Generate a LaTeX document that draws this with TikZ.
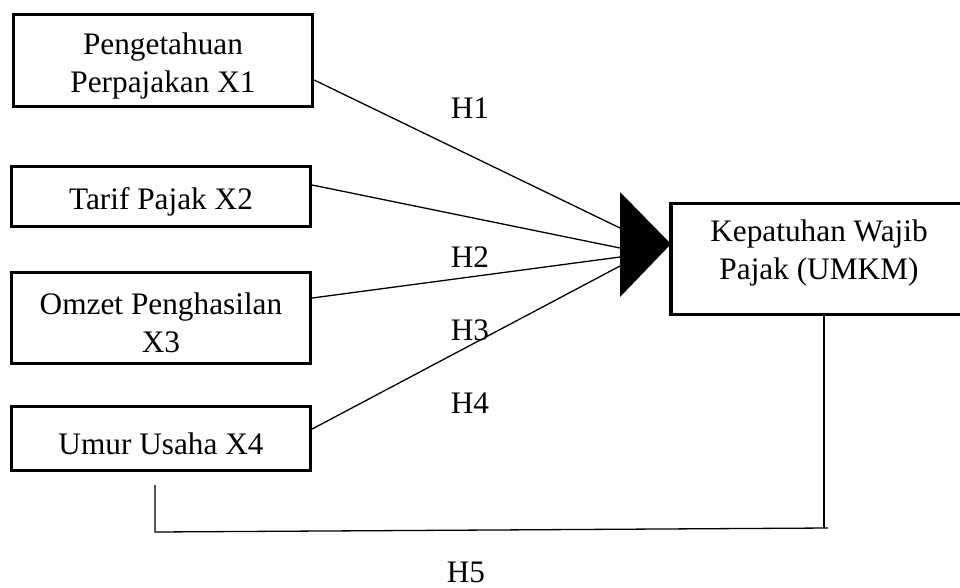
\documentclass[tikz,border=0pt]{standalone}
\usepackage{fontspec}
\setmainfont{Liberation Serif}
\begin{document}
\begin{tikzpicture}[x=1pt,y=-1pt,
  font=\fontsize{31.3pt}{38pt}\selectfont,
  box/.style={draw,line width=3.3pt,inner sep=0pt,minimum width=299pt},
  btext/.style={inner sep=0pt,align=center},
  conn/.style={line width=1.3pt},
  hlabel/.style={inner sep=0pt,anchor=base}]
\fill[white] (0,0) rectangle (960,587);
\useasboundingbox (0,0) rectangle (960,587);
% boxes
\node[box,minimum height=92pt] (x1) at (163,60.5) {};
\node[btext] (x1t) at (163,66) {Pengetahuan\\Perpajakan X1};
\node[box,minimum height=60pt] (x2) at (161,196.5) {};
\node[btext] (x2t) at (161,201.5) {Tarif Pajak X2};
\node[box,minimum height=91pt] (x3) at (161,318) {};
\node[btext] (x3t) at (161,322.5) {Omzet Penghasilan\\X3};
\node[box,minimum height=64pt] (x4) at (161,438.5) {};
\node[btext] (x4t) at (161,443.5) {Umur Usaha X4};
\node[box,minimum height=111pt] (y) at (820.5,259) {};
\node[btext] (yt) at (819,253) {Kepatuhan Wajib\\Pajak (UMKM)};
% arrowhead
\coordinate (t1) at (620,192);
\coordinate (t2) at (620,297);
\coordinate (tip) at (671,244);
\fill (t1) -- (t2) -- (tip) -- cycle;
\coordinate (e1) at (620,228);
\coordinate (e2) at (620,248);
\coordinate (e3) at (620,257);
\coordinate (e4) at (620,266);
% connectors
\draw[conn] ([yshift=-19.5pt]x1.east) -- (e1);
\draw[conn] ([yshift=11.5pt]x2.east) -- (e2);
\draw[conn] ([yshift=20pt]x3.east) -- (e3);
\draw[conn] ([yshift=9.5pt]x4.east) -- (e4);
% H5 path
\coordinate (h5a) at (155,485);
\coordinate (h5b) at (155,532);
\coordinate (h5c) at (828,528);
\coordinate (h5d) at (824,528);
\draw[conn] (h5a) -- (h5b) -- (h5c);
\draw[conn] ([xshift=3.5pt]y.south) -- (h5d);
% labels
\node[hlabel] (h1) at (470,118) {H1};
\node[hlabel] (h2) at (470,267) {H2};
\node[hlabel] (h3) at (470,340) {H3};
\node[hlabel] (h4) at (470,413) {H4};
\node[hlabel] (h5) at (466,582) {H5};
\end{tikzpicture}
\end{document}
